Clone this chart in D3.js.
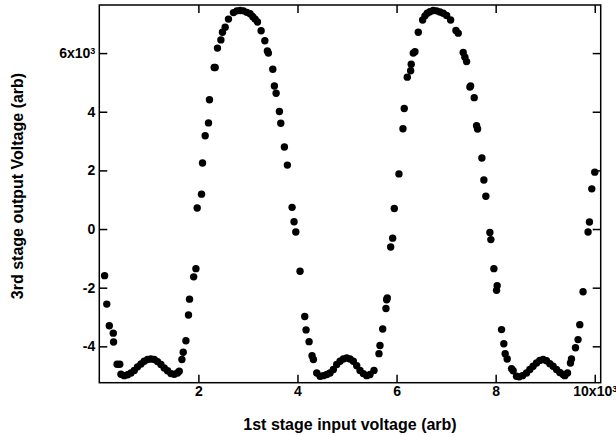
<!DOCTYPE html>
<html>
<head>
<meta charset="utf-8">
<script src="https://cdn.jsdelivr.net/npm/d3@7"></script>
<style>
  body { margin: 0; background: #fff; }
  #svg-container { width: 616px; height: 436px; }
  text { font-family: "Liberation Sans", Arial, sans-serif; font-weight: bold; fill: #000; }
</style>
</head>
<body>
<div id="svg-container"></div>
<script>
// input voltage, in units of 10^3
var inputV = [
  0.107, 0.151, 0.202, 0.282, 0.288, 0.359, 0.413, 0.437, 0.504, 0.571,
  0.639, 0.706, 0.772, 0.841, 0.907, 0.974, 1.042, 1.109, 1.175, 1.244,
  1.310, 1.377, 1.446, 1.512, 1.579, 1.613, 1.667, 1.694, 1.748, 1.800,
  1.821, 1.905, 1.950, 1.976, 2.063, 2.083, 2.137, 2.204, 2.224, 2.319,
  2.339, 2.385, 2.454, 2.486, 2.540, 2.607, 2.708, 2.776, 2.843, 2.909,
  2.978, 3.044, 3.099, 3.145, 3.192, 3.266, 3.341, 3.393, 3.413, 3.502,
  3.534, 3.569, 3.635, 3.663, 3.736, 3.796, 3.891, 3.931, 3.966, 4.052,
  4.147, 4.173, 4.234, 4.294, 4.321, 4.389, 4.456, 4.522, 4.591, 4.657,
  4.724, 4.792, 4.859, 4.925, 4.994, 5.060, 5.127, 5.196, 5.262, 5.329,
  5.397, 5.464, 5.544, 5.645, 5.665, 5.720, 5.786, 5.800, 5.812, 5.881,
  5.921, 5.954, 6.048, 6.129, 6.155, 6.216, 6.284, 6.296, 6.337, 6.371,
  6.438, 6.526, 6.573, 6.619, 6.673, 6.740, 6.808, 6.875, 6.942, 7.010,
  7.091, 7.198, 7.244, 7.345, 7.379, 7.413, 7.480, 7.494, 7.567, 7.615,
  7.635, 7.722, 7.762, 7.802, 7.883, 7.903, 7.964, 8.018, 8.030, 8.119,
  8.165, 8.192, 8.232, 8.321, 8.353, 8.421, 8.474, 8.542, 8.623, 8.690,
  8.756, 8.825, 8.891, 8.958, 9.026, 9.093, 9.159, 9.228, 9.294, 9.361,
  9.395, 9.450, 9.510, 9.530, 9.611, 9.663, 9.698, 9.764, 9.865, 9.893,
  9.940, 10.000
];

// output voltage, in units of 10^3
var outputV = [
  -1.59, -2.56, -3.30, -3.55, -3.85, -4.61, -4.61, -4.95, -5.00, -4.97,
  -4.91, -4.82, -4.70, -4.60, -4.51, -4.45, -4.43, -4.45, -4.52, -4.62,
  -4.74, -4.83, -4.93, -4.95, -4.91, -4.85, -4.45, -4.20, -3.81, -2.93,
  -2.39, -1.63, -1.35, 0.72, 1.19, 2.25, 3.18, 3.62, 4.41, 5.51,
  5.51, 6.17, 6.45, 6.71, 6.88, 7.16, 7.38, 7.44, 7.45, 7.44,
  7.39, 7.34, 7.24, 7.16, 7.06, 6.76, 6.42, 6.07, 6.00, 5.45,
  4.88, 4.63, 4.01, 3.61, 2.80, 2.18, 0.74, 0.25, -0.10, -1.44,
  -2.98, -3.44, -3.84, -4.32, -4.45, -4.91, -5.02, -5.00, -4.96, -4.91,
  -4.79, -4.62, -4.51, -4.43, -4.40, -4.43, -4.51, -4.66, -4.82, -4.93,
  -5.00, -4.96, -4.82, -4.25, -3.97, -3.41, -2.71, -2.41, -2.35, -0.61,
  -0.31, 0.70, 1.88, 3.42, 4.11, 5.18, 5.40, 5.62, 6.00, 6.05,
  6.71, 7.13, 7.27, 7.36, 7.41, 7.45, 7.44, 7.40, 7.36, 7.28,
  7.13, 6.77, 6.68, 6.02, 5.86, 5.71, 4.84, 4.88, 4.48, 3.52,
  3.41, 2.42, 1.67, 1.12, -0.12, -0.36, -1.35, -2.09, -1.93, -3.43,
  -3.91, -4.25, -4.43, -4.76, -4.83, -5.02, -5.04, -5.00, -4.91, -4.79,
  -4.68, -4.57, -4.48, -4.45, -4.49, -4.59, -4.68, -4.79, -4.89, -4.96,
  -5.00, -4.91, -4.57, -4.43, -4.05, -3.77, -3.26, -2.14, -0.10, 0.24,
  1.37, 1.94
];

var xTicks = [2, 4, 6, 8, 10];
var xTickLabels = ["2", "4", "6", "8", "10x10^3"];
var yTicks = [-4, -2, 0, 2, 4, 6];
var yTickLabels = ["-4", "-2", "0", "2", "4", "6x10^3"];

var xTitle = "1st stage input voltage (arb)";
var yTitle = "3rd stage output Voltage (arb)";

var width = 616;
var height = 436;
var margin = { top: 5, right: 15.3, bottom: 53.3, left: 99.3 };
var innerW = width - margin.left - margin.right;
var innerH = height - margin.top - margin.bottom;

var svg = d3.select("#svg-container")
            .append("svg")
            .attr("width", width)
            .attr("height", height);

var g = svg.append("g")
           .attr("transform", "translate(" + margin.left + "," + margin.top + ")");

var scaleX = d3.scaleLinear().domain([0, 10.12]).range([0, innerW]);
var scaleY = d3.scaleLinear().domain([-5.24, 7.64]).range([innerH, 0]);

// label with optional superscript, "10x10^3"
function supLabel(sel, labels, ticks) {
  sel.selectAll(".tick text").each(function(d) {
    var lab = labels[ticks.indexOf(d)];
    var parts = lab.split("^");
    var t = d3.select(this).text(null);
    t.append("tspan").text(parts[0]);
    if (parts.length > 1) {
      t.append("tspan")
       .attr("dy", "-0.45em")
       .style("font-size", "9px")
       .text(parts[1]);
    }
  });
}

function styleAxis(sel) {
  sel.select(".domain").remove();
  sel.selectAll(".tick line").attr("stroke", "#000").attr("stroke-width", 1.5);
  sel.selectAll(".tick text")
     .style("font-size", "14px")
     .style("font-family", "'Liberation Sans', Arial, sans-serif")
     .style("font-weight", "bold")
     .attr("fill", "#000");
}

var xAxis = g.append("g")
  .attr("class", "xAxis")
  .attr("transform", "translate(0," + innerH + ")")
  .call(d3.axisBottom(scaleX).tickValues(xTicks).tickSize(-8).tickPadding(3));
styleAxis(xAxis);
supLabel(xAxis, xTickLabels, xTicks);

var yAxis = g.append("g")
  .attr("class", "yAxis")
  .call(d3.axisLeft(scaleY).tickValues(yTicks).tickSize(-8).tickPadding(4));
styleAxis(yAxis);
supLabel(yAxis, yTickLabels, yTicks);

// mirror ticks on top and right
var topAxis = g.append("g")
  .call(d3.axisTop(scaleX).tickValues(xTicks).tickSize(-8).tickFormat(""));
styleAxis(topAxis);

var rightAxis = g.append("g")
  .attr("transform", "translate(" + innerW + ",0)")
  .call(d3.axisRight(scaleY).tickValues(yTicks).tickSize(-8).tickFormat(""));
styleAxis(rightAxis);

g.append("rect")
 .attr("x", 0)
 .attr("y", 0)
 .attr("width", innerW)
 .attr("height", innerH)
 .attr("fill", "none")
 .attr("stroke", "#000")
 .attr("stroke-width", 1.5);

var points = inputV.map(function(d, i) { return { x: d, y: outputV[i] }; });

g.append("g")
 .attr("class", "points")
 .selectAll("circle")
 .data(points)
 .enter()
 .append("circle")
 .attr("cx", function(d) { return scaleX(d.x); })
 .attr("cy", function(d) { return scaleY(d.y); })
 .attr("r", 3.7)
 .attr("fill", "#000");

svg.append("text")
   .attr("x", margin.left + innerW / 2)
   .attr("y", 430)
   .attr("text-anchor", "middle")
   .style("font-size", "16px")
   .text(xTitle);

svg.append("text")
   .attr("transform", "translate(23,186) rotate(-90)")
   .attr("text-anchor", "middle")
   .style("font-size", "16px")
   .text(yTitle);
</script>
</body>
</html>
